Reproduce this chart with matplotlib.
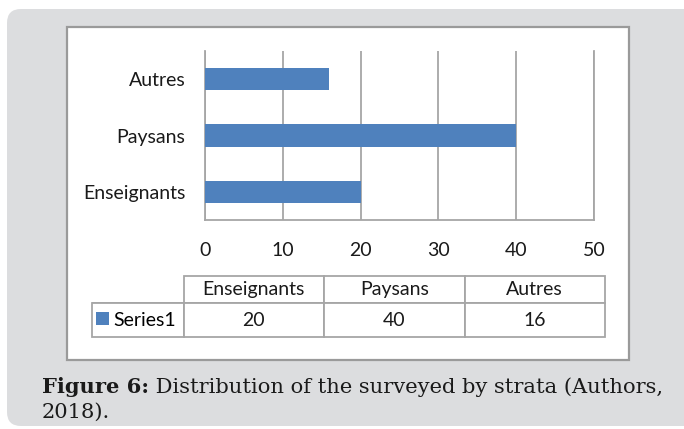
import matplotlib.pyplot as plt
from matplotlib.patches import FancyBboxPatch, Rectangle

categories = ["Enseignants", "Paysans", "Autres"]
values = [20, 40, 16]
series_name = "Series1"
x_ticks = [0, 10, 20, 30, 40, 50]
caption_bold = "Figure 6:"
caption_rest = " Distribution of the surveyed by strata (Authors,"
caption_line2 = "2018)."

BAR = "#4f81bd"
GRID = "#a6a6a6"
CARD = "#dcdddf"
TXT = "#1a1a1a"
FONT = "Lato"
SERIF = "DejaVu Serif"
FS = 14
CAP_FS = 15.1

W, H = 684, 429
fig = plt.figure(figsize=(W / 100, H / 100), dpi=100)


def box(l, t, r, b):
    # pixel box (top-left origin) -> figure fraction
    return [l / W, 1 - b / H, (r - l) / W, (b - t) / H]


# background card + white chart frame
bg = fig.add_axes([0, 0, 1, 1], zorder=-1)
bg.set_xlim(0, W)
bg.set_ylim(H, 0)
bg.axis("off")
bg.add_patch(FancyBboxPatch((7, 9), 720, 417, boxstyle="round,pad=0,rounding_size=14",
                            fc=CARD, ec="none"))
bg.add_patch(Rectangle((67, 27), 562, 333, fc="white", ec="#9a9a9a", lw=1.6))

# bars
ax = fig.add_axes(box(205, 51, 594, 220))
bars = ax.barh(range(len(categories)), values, height=0.4, color=BAR, zorder=3)
ax.set_xlim(0, 50)
ax.set_ylim(-0.5, len(categories) - 0.5)
ax.set_xticks(x_ticks)
ax.set_yticks(range(len(categories)), categories)
ax.tick_params(axis="both", length=0, labelsize=FS, labelcolor=TXT)
ax.tick_params(axis="x", pad=16)
ax.tick_params(axis="y", pad=14)
for lab in ax.get_xticklabels() + ax.get_yticklabels():
    lab.set_family(FONT)
ax.grid(axis="x", color=GRID, lw=1.3)
ax.set_axisbelow(True)
ax.spines["top"].set_visible(False)
for s in ["left", "right", "bottom"]:
    ax.spines[s].set_color(GRID)
    ax.spines[s].set_linewidth(1.3)

# data table (first column holds the legend key, corner cell is open)
tax = fig.add_axes(box(92, 276, 605, 337))
tax.axis("off")
tbl = tax.table(cellText=[[""] + [str(v) for v in values]],
                colLabels=[""] + categories, colWidths=[92, 141, 141, 141],
                cellLoc="center", bbox=[0, 0, 1, 1])
tbl.auto_set_font_size(False)
for (r, c), cell in tbl.get_celld().items():
    cell.set_edgecolor(GRID)
    cell.set_linewidth(1.3)
    cell.set_height(27 if r == 0 else 34)
    cell.get_text().set_fontsize(FS)
    cell.get_text().set_family(FONT)
    cell.get_text().set_color(TXT)
tbl[0, 0].visible_edges = "B"

tax.legend([bars], [series_name], loc="center left",
           bbox_to_anchor=(96 / W, 1 - 320 / H), bbox_transform=fig.transFigure,
           frameon=False, borderpad=0, borderaxespad=0, handlelength=0.65,
           handleheight=0.65, handletextpad=0.25,
           prop={"family": FONT, "size": FS})

# caption
t1 = bg.text(42, 387, caption_bold, fontweight="bold", family=SERIF, size=CAP_FS,
             va="center", color=TXT)
bg.annotate(caption_rest, xy=(1, 0), xycoords=t1, va="bottom", family=SERIF,
            size=CAP_FS, color=TXT)
bg.text(42, 412, caption_line2, family=SERIF, size=CAP_FS, va="center", color=TXT)

fig.savefig("out.png", dpi=100)
